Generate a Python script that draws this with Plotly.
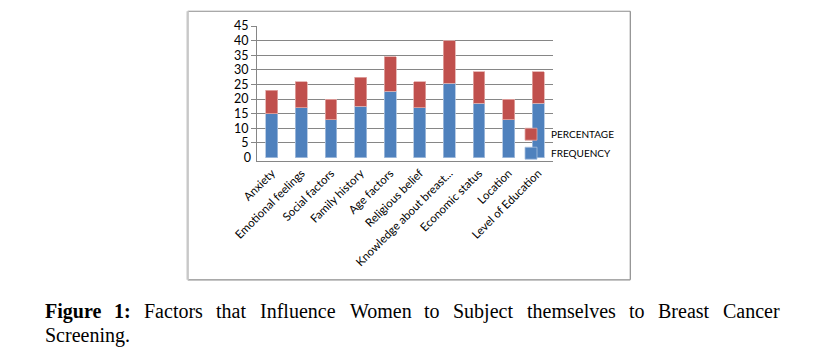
import plotly.graph_objects as go

categories = ["Anxiety", "Emotional feelings", "Social factors", "Family history",
              "Age factors", "Religious belief", "Knowledge about breast...",
              "Economic status", "Location", "Level of Education"]
frequency = [15, 17, 13, 17.6, 22.7, 17, 25.4, 18.6, 13, 18.6]
percentage = [8, 9, 7, 9.9, 11.8, 8.9, 14.5, 10.7, 7, 10.7]
y_ticks = [5, 10, 15, 20, 25, 30, 35, 40, 45]

caption_line1 = ["Figure", "1:", "Factors", "that", "Influence", "Women", "to",
                 "Subject", "themselves", "to", "Breast", "Cancer"]
caption_line2 = "Screening."

W, H = 823, 354
PL, PR, PT, PB = 257, 553, 26, 160.7  # plot area in pixels


def px2x(px):
    return (px - PL) / (PR - PL)


def px2y(py):
    return (PB - py) / (PB - PT)


fig = go.Figure()
fig.add_trace(go.Bar(
    x=categories, y=frequency, name="FREQUENCY", legendrank=2,
    marker=dict(color="#4F81BD", line=dict(color="#A9C1DF", width=0.8)),
    width=0.4,
))
fig.add_trace(go.Bar(
    x=categories, y=percentage, name="PERCENTAGE", legendrank=1,
    marker=dict(color="#C0504D", line=dict(color="#E2AAA8", width=0.8)),
    width=0.4,
))
# invisible trace carrying the 0 label on a second axis
fig.add_trace(go.Scatter(x=[categories[0]], y=[0], yaxis="y2", mode="markers",
                         marker=dict(opacity=0), showlegend=False, hoverinfo="skip"))

yr = [-1.17, 45]
tick_font = dict(size=12.5, family="Lato", color="black")
fig.update_layout(
    width=W, height=H,
    margin=dict(l=PL, r=W - PR, t=PT, b=H - PB, autoexpand=False),
    paper_bgcolor="white", plot_bgcolor="white",
    barmode="stack",
    font=dict(family="Lato", color="black"),
    xaxis=dict(tickangle=-45, showline=True, linecolor="#868686", linewidth=1,
               ticks="", tickfont=dict(size=11.5, family="Lato", color="black"),
               range=[-0.5, 9.5], showgrid=False),
    yaxis=dict(range=yr, tickvals=y_ticks, showgrid=True, gridcolor="#868686",
               gridwidth=1, zeroline=False, showline=True, linecolor="#868686",
               ticks="outside", ticklen=5, tickcolor="#868686",
               tickfont=tick_font),
    yaxis2=dict(range=yr, tickvals=[0], overlaying="y", side="left",
                showgrid=False, zeroline=False, showline=False, ticks="",
                tickfont=tick_font, ticklabelstandoff=5),
    legend=dict(x=px2x(511), y=px2y(119.5), xanchor="left", yanchor="top",
                bgcolor="rgba(0,0,0,0)", traceorder="normal",
                font=dict(size=10, family="Lato", color="black")),
    showlegend=True,
)

# chart frame
frame_l, frame_r, frame_t, frame_b = 187.7, 630.3, 11.3, 279.3
fig.add_shape(type="line", xref="paper", yref="paper",
              x0=px2x(frame_l), x1=px2x(frame_r), y0=px2y(frame_t), y1=px2y(frame_t),
              line=dict(color="#8C8C8C", width=1.2))
fig.add_shape(type="line", xref="paper", yref="paper",
              x0=px2x(frame_r), x1=px2x(frame_r), y0=px2y(frame_t), y1=px2y(frame_b),
              line=dict(color="#8C8C8C", width=1.2))
fig.add_shape(type="line", xref="paper", yref="paper",
              x0=px2x(frame_l), x1=px2x(frame_r), y0=px2y(frame_b), y1=px2y(frame_b),
              line=dict(color="#8C8C8C", width=1.2))
fig.add_shape(type="line", xref="paper", yref="paper",
              x0=px2x(frame_l), x1=px2x(frame_l), y0=px2y(frame_t), y1=px2y(frame_b),
              line=dict(color="#C8C8C8", width=2.4))

# caption (justified line 1, one annotation per word)
word_left = [44, 113, 143, 215, 258.5, 348.5, 423, 452, 525.5, 628, 657, 721.5]
for i, (w, xl) in enumerate(zip(caption_line1, word_left)):
    fig.add_annotation(
        text=f"<b>{w}</b>" if i < 2 else w,
        xref="paper", yref="paper", x=px2x(xl), y=px2y(310.5),
        xanchor="left", yanchor="middle", showarrow=False, borderpad=0,
        font=dict(family="Liberation Serif", size=20, color="black"))
fig.add_annotation(
    text=caption_line2, xref="paper", yref="paper", x=px2x(44), y=px2y(334.5),
    xanchor="left", yanchor="middle", showarrow=False, borderpad=0,
    font=dict(family="Liberation Serif", size=20, color="black"))

fig.write_html("out.html")
